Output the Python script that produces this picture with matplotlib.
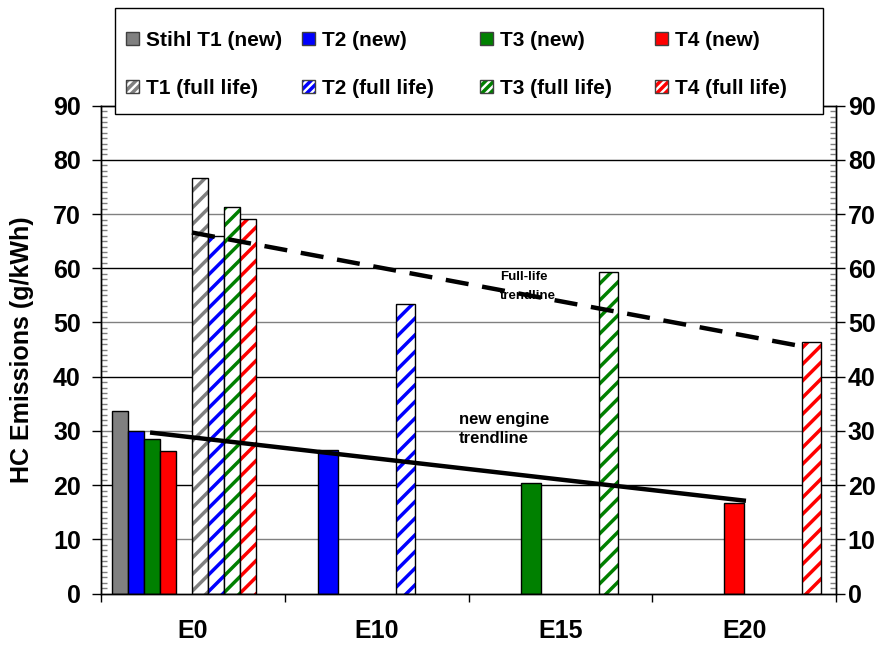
import matplotlib
matplotlib.use('Agg')
import matplotlib.pyplot as plt
from matplotlib.patches import Patch, Rectangle
from matplotlib.legend_handler import HandlerTuple
from matplotlib.ticker import MultipleLocator

plt.rcParams['font.family'] = ['Liberation Sans', 'DejaVu Sans']
plt.rcParams['font.weight'] = 'bold'
plt.rcParams['hatch.linewidth'] = 2.5

# data (g/kWh), None where no bar
categories = ['E0', 'E10', 'E15', 'E20']
t1_new = [33.7, None, None, None]
t2_new = [30.0, 26.4, None, None]
t3_new = [28.5, None, 20.4, None]
t4_new = [26.3, None, None, 16.7]
t1_full = [76.7, None, None, None]
t2_full = [66.0, 53.5, None, None]
t3_full = [71.4, None, 59.3, None]
t4_full = [69.1, None, None, 46.4]
new_labels = ['Stihl T1 (new)', 'T2 (new)', 'T3 (new)', 'T4 (new)']
full_labels = ['T1 (full life)', 'T2 (full life)', 'T3 (full life)', 'T4 (full life)']
colors = ['#808080', '#0000ff', '#008000', '#ff0000']

# trendlines (x in category units)
new_trend_x = [0.267, 3.51]
new_trend_y = [29.7, 17.1]
full_trend_x = [0.495, 3.80]
full_trend_y = [66.6, 45.7]

W, H = 889, 647
fig = plt.figure(figsize=(W / 100, H / 100), dpi=100)
ax = fig.add_axes([101 / W, (H - 593.5) / H, (836 - 101) / W, (593.5 - 105.7) / H])

# horizontal gridlines: gray every 10, black every 20
for v in range(10, 90, 10):
    ax.axhline(v, color='black' if v % 20 == 0 else '#808080', lw=1, zorder=0)

new_series = [t1_new, t2_new, t3_new, t4_new]
full_series = [t1_full, t2_full, t3_full, t4_full]
for i in range(4):
    for c in range(4):
        if c == 0:
            w = 0.087
            xn = 0.0615 + i * w
            xf = 0.495 + i * w
        else:
            w = 0.105
            xn = c + 0.078 + i * w
            xf = c + 0.5 + i * w
        if new_series[i][c] is not None:
            ax.bar(xn, new_series[i][c], w, align='edge', color=colors[i],
                   edgecolor='black', lw=1, zorder=2)
        if full_series[i][c] is not None:
            ax.bar(xf, full_series[i][c], w, align='edge', color='white',
                   edgecolor=colors[i], hatch='//', lw=0, zorder=2)
            ax.bar(xf, full_series[i][c], w, align='edge', fill=False,
                   edgecolor='black', lw=1, zorder=2)

ax.plot(new_trend_x, new_trend_y, color='black', lw=3.2, zorder=4, solid_capstyle='butt')
ax.plot(full_trend_x, full_trend_y, color='black', lw=3.2, zorder=4,
        dashes=(5.2, 3.1), dash_capstyle='butt')

ax.text(1.948, 30.4, 'new engine\ntrendline', fontsize=12, va='center', ha='left',
        linespacing=1.3)
ax.text(2.17, 56.7, 'Full-life\ntrendline', fontsize=9.5, va='center', ha='left',
        linespacing=1.75)

ax.set_xlim(0, 4)
ax.set_ylim(0, 90)
ax.set_xticks([0, 1, 2, 3, 4])
ax.set_xticklabels([])
ax.set_xticks([0.5, 1.5, 2.5, 3.5], minor=True)
ax.set_xticklabels(categories, minor=True, fontsize=18, fontweight='bold')
ax.tick_params(axis='x', which='major', direction='out', length=6, width=1)
ax.tick_params(axis='x', which='minor', length=0, pad=18)

ax2 = ax.twinx()
for a, p in ((ax, 8), (ax2, 2)):
    a.set_ylim(0, 90)
    a.set_yticks(range(0, 91, 10))
    a.yaxis.set_minor_locator(MultipleLocator(1))
    a.yaxis.set_tick_params(which='major', direction='out', length=6.5, width=1,
                            labelsize=18, pad=p)
    a.yaxis.set_tick_params(which='minor', direction='in', length=4.3, width=1,
                            color='#808080')
    for lbl in a.get_yticklabels():
        lbl.set_fontweight('bold')
    for s in a.spines.values():
        s.set_linewidth(1)
        s.set_color('black')

fig.text(22 / W, 1 - 349.6 / H, 'HC Emissions (g/kWh)', rotation=90, fontsize=18,
         fontweight='bold', ha='center', va='center')

# legend frame
fig.patches.append(Rectangle((115 / W, 1 - 114 / H), (823 - 115) / W, (114 - 8) / H,
                             transform=fig.transFigure, facecolor='white',
                             edgecolor='black', lw=1, zorder=3))

col_x = [126, 302, 480, 655]
for i in range(4):
    h_new = Patch(facecolor=colors[i], edgecolor='#404040', lw=1)
    h_full = (Patch(facecolor='white', edgecolor=colors[i], hatch='////', lw=0),
              Patch(fill=False, edgecolor='#404040', lw=1))
    fig.legend([h_new, h_full], [new_labels[i], full_labels[i]], loc='upper left',
               bbox_to_anchor=(col_x[i] / W, 1 - 31 / H), frameon=False,
               fontsize=15, handlelength=0.6, handleheight=0.6, handletextpad=0.35,
               labelspacing=1.4, borderpad=0, borderaxespad=0,
               handler_map={tuple: HandlerTuple(ndivide=1, pad=0)})

fig.savefig('out.png', dpi=100)
